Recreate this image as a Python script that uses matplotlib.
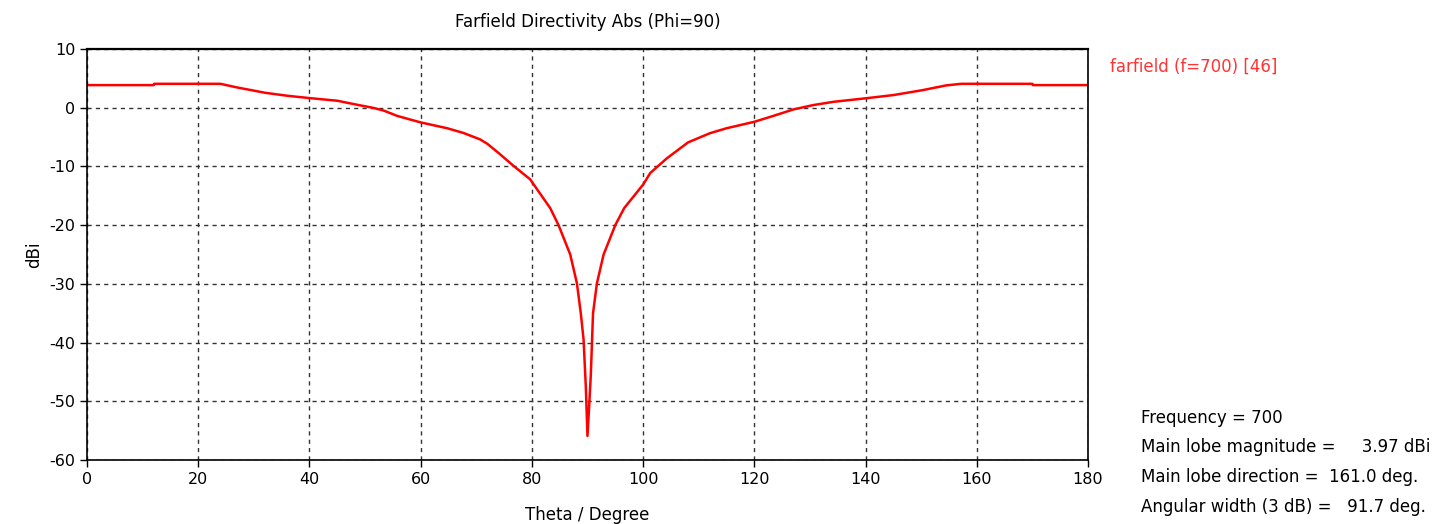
import matplotlib
matplotlib.use('Agg')
import matplotlib.pyplot as plt

# Farfield directivity cut (Phi=90)
theta = [0, 12, 12.1, 24, 27, 32, 36, 40, 45, 48.6, 51.6, 53.4, 55.8, 60, 64.8,
         67.7, 70.7, 72, 74, 76.7, 79.7, 80.5, 83.3, 84.8, 86.9, 88.1, 88.8, 89.3,
         89.7, 90.0, 90.3, 90.6, 91.0, 91.7, 92.9, 95.0, 96.6, 100.0, 101.3,
         104.3, 108.1, 112, 115, 120, 123.4, 127, 130.6, 134.2, 140, 145, 150.3,
         154.5, 157.2, 170, 170.1, 180]
directivity = [3.85, 3.85, 4.07, 4.07, 3.45, 2.55, 2.04, 1.64, 1.19, 0.5, -0.05,
               -0.5, -1.4, -2.5, -3.5, -4.3, -5.4, -6.15, -7.7, -9.9, -12.2, -13.3,
               -17.1, -20.0, -25.0, -29.9, -35.0, -39.5, -47.5, -55.9, -50.9, -45.5,
               -35.0, -29.9, -25.0, -20.0, -17.1, -13.1, -11.1, -8.6, -5.9, -4.35,
               -3.5, -2.4, -1.4, -0.3, 0.45, 1.0, 1.6, 2.15, 3.0, 3.8, 4.07, 4.07,
               3.85, 3.85]

xticks = list(range(0, 181, 20))
yticks = list(range(-60, 11, 10))

info_lines = ['Frequency = 700',
              'Main lobe magnitude =     3.97 dBi',
              'Main lobe direction =  161.0 deg.',
              'Angular width (3 dB) =   91.7 deg.']

plt.rcParams['font.family'] = ['DejaVu Sans']
plt.rcParams['axes.unicode_minus'] = False
fig = plt.figure(figsize=(14.42, 5.24), dpi=100)
ax = fig.add_axes([0.0603, 0.1221, 0.6942, 0.7844])

ax.plot(theta, directivity, color='#ff0000', lw=1.8)

ax.set_xlim(0, 180)
ax.set_ylim(-60, 10)
ax.set_xticks(xticks)
ax.set_yticks(yticks)
ax.tick_params(direction='out', length=5, width=1, labelsize=11.5, color='black')
ax.grid(True, color='#333333', linestyle=(0, (3, 3)), lw=1)
for s in ax.spines.values():
    s.set_color('black')
    s.set_linewidth(1.2)
ax.spines['top'].set_linewidth(1.6)

ax.set_title('Farfield Directivity Abs (Phi=90)', fontsize=12, pad=16)
ax.set_xlabel('Theta / Degree', fontsize=12, labelpad=14)
ax.set_ylabel('dBi', fontsize=12, labelpad=4)

fig.text(1110 / 1442, 1 - 67 / 524, 'farfield (f=700) [46]', color='#ff3333',
         fontsize=12, va='center', ha='left')

for i, line in enumerate(info_lines):
    fig.text(1141 / 1442, 1 - (418 + i * 29.5) / 524, line, fontsize=12,
             va='center', ha='left')

fig.savefig('out.png', dpi=100)
